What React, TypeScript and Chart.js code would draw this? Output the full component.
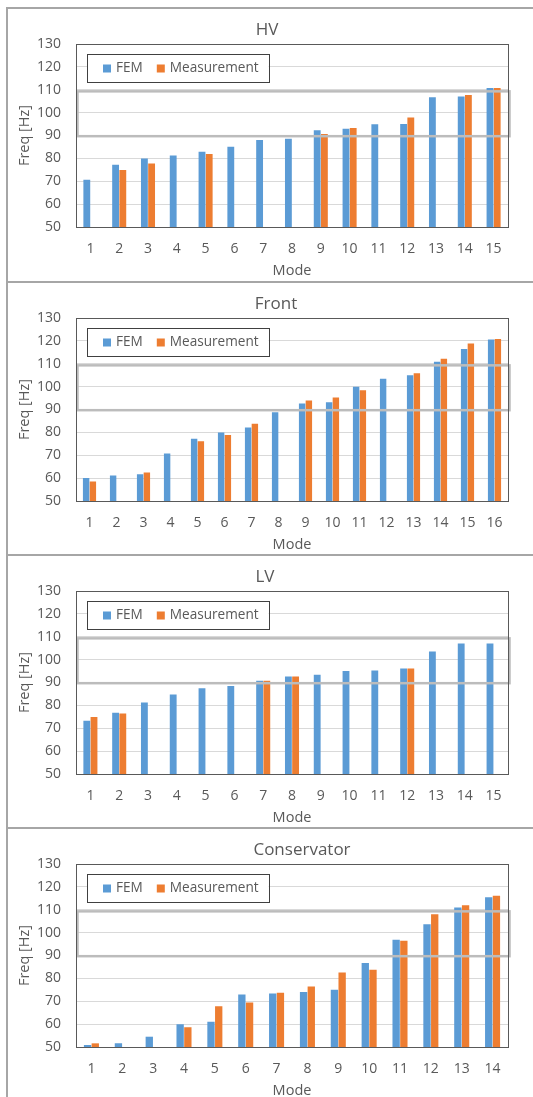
import React, { useEffect, useRef } from "react";
import { Chart, registerables } from "chart.js";

Chart.register(...registerables);

// ---------- data ----------
const HV_MODES = ["1", "2", "3", "4", "5", "6", "7", "8", "9", "10", "11", "12", "13", "14", "15"];
const HV_FEM = [70.7, 77.2, 80.0, 81.3, 82.9, 85.1, 88.0, 88.6, 92.3, 93.0, 94.9, 95.0, 106.7, 107.1, 110.8];
const HV_MEAS = [null, 74.9, 77.8, null, 81.9, null, null, null, 90.7, 93.3, null, 97.9, null, 107.7, 110.8];

const FRONT_MODES = ["1", "2", "3", "4", "5", "6", "7", "8", "9", "10", "11", "12", "13", "14", "15", "16"];
const FRONT_FEM = [60.1, 61.1, 61.7, 70.8, 77.2, 79.9, 82.1, 88.8, 92.6, 93.2, 99.9, 103.4, 105.0, 110.9, 116.5, 120.6];
const FRONT_MEAS = [58.5, null, 62.5, null, 76.1, 78.9, 83.8, null, 93.9, 95.2, 98.4, null, 105.8, 112.2, 118.9, 120.8];

const LV_MODES = ["1", "2", "3", "4", "5", "6", "7", "8", "9", "10", "11", "12", "13", "14", "15"];
const LV_FEM = [73.3, 76.8, 81.3, 84.8, 87.5, 88.5, 90.8, 92.6, 93.4, 95.0, 95.3, 96.1, 103.6, 107.1, 107.1];
const LV_MEAS = [74.9, 76.5, null, null, null, null, 90.8, 92.6, null, null, null, 96.1, null, null, null];

const CONS_MODES = ["1", "2", "3", "4", "5", "6", "7", "8", "9", "10", "11", "12", "13", "14"];
const CONS_FEM = [50.9, 51.6, 54.5, 59.9, 61.0, 73.0, 73.4, 74.0, 75.0, 86.7, 96.9, 103.7, 111.0, 115.5];
const CONS_MEAS = [51.6, null, null, 58.6, 67.8, 69.4, 73.7, 76.5, 82.6, 83.8, 96.5, 108.0, 112.0, 116.1];

const PANEL_TITLES = ["HV", "Front", "LV", "Conservator"];
const SERIES_NAMES = ["FEM", "Measurement"];
const Y_MIN = 50;
const Y_MAX = 130;
const Y_STEP = 10;
const BAND_LOW = 89.7;
const BAND_HIGH = 109.3;
const X_TITLE = "Mode";
const Y_TITLE = "Freq [Hz]";

// ---------- style ----------
const FONT = "'Open Sans', 'Noto Sans', sans-serif";
const FEM_COLOR = "#5B9BD5";
const MEAS_COLOR = "#ED7D31";
const TEXT_COLOR = "#595959";
const W = 533;
const PANEL_H = 274;
const PANEL_TOPS = [7, 281, 554, 827];
const TITLE_X = [267, 276, 265, 302];

const decoPlugin = {
  id: "deco",
  afterDatasetsDraw(chart: any, _args: any, opts: any) {
    const ctx = chart.ctx;
    const ca = chart.chartArea;
    const ys = chart.scales.y;
    ctx.save();
    const y1 = ys.getPixelForValue(opts.bandHigh);
    const y2 = ys.getPixelForValue(opts.bandLow);
    ctx.strokeStyle = "#bcbcbc";
    ctx.lineWidth = 2.5;
    ctx.strokeRect(ca.left + 1.5, y1, ca.right - ca.left, y2 - y1);
    ctx.strokeStyle = "#595959";
    ctx.lineWidth = 1;
    ctx.strokeRect(Math.round(ca.left) + 0.5, Math.round(ca.top) + 0.5, Math.round(ca.right - ca.left), Math.round(ca.bottom - ca.top));
    ctx.restore();
  },
  afterDraw(chart: any, _args: any, opts: any) {
    const ctx = chart.ctx;
    const ca = chart.chartArea;
    ctx.save();
    ctx.font = `17px ${FONT}`;
    ctx.fillStyle = TEXT_COLOR;
    ctx.textAlign = "center";
    ctx.textBaseline = "middle";
    ctx.fillText(opts.title, opts.titleX, 23);
    ctx.font = `13.6px ${FONT}`;
    const items = chart.data.datasets.map((d: any) => ({ label: d.label, color: d.backgroundColor }));
    const bx = Math.round(ca.left) + 11;
    const by = Math.round(ca.top) + 10;
    const bh = 28;
    let w = 16;
    items.forEach((it: any, i: number) => {
      w += 13 + ctx.measureText(it.label).width;
      if (i < items.length - 1) w += 14;
    });
    w += 10;
    ctx.fillStyle = "#ffffff";
    ctx.fillRect(bx, by, w, bh);
    ctx.strokeStyle = "#404040";
    ctx.lineWidth = 1;
    ctx.strokeRect(bx + 0.5, by + 0.5, Math.round(w), bh);
    let x = bx + 16;
    const cy = by + bh / 2 + 0.5;
    items.forEach((it: any) => {
      ctx.fillStyle = it.color;
      ctx.fillRect(x, cy - 4, 8, 8);
      ctx.fillStyle = TEXT_COLOR;
      ctx.textAlign = "left";
      ctx.textBaseline = "middle";
      ctx.fillText(it.label, x + 13, cy);
      x += 13 + ctx.measureText(it.label).width + 14;
    });
    ctx.restore();
  },
};

function Panel(props: { idx: number; labels: string[]; fem: (number | null)[]; meas: (number | null)[] }) {
  const ref = useRef<HTMLCanvasElement | null>(null);
  useEffect(() => {
    if (!ref.current) return;
    const chart = new Chart(ref.current, {
      type: "bar",
      data: {
        labels: props.labels,
        datasets: [
          { label: SERIES_NAMES[0], data: props.fem, backgroundColor: FEM_COLOR, borderWidth: 0, categoryPercentage: 0.5, barPercentage: 0.95 },
          { label: SERIES_NAMES[1], data: props.meas, backgroundColor: MEAS_COLOR, borderWidth: 0, categoryPercentage: 0.5, barPercentage: 0.95 },
        ],
      } as any,
      options: {
        responsive: false,
        animation: false,
        layout: { padding: { top: 37, right: 25, left: 0, bottom: 0 } },
        plugins: {
          legend: { display: false },
          tooltip: { enabled: false },
          title: { display: false },
          deco: { title: PANEL_TITLES[props.idx], titleX: TITLE_X[props.idx], bandLow: BAND_LOW, bandHigh: BAND_HIGH },
        } as any,
        scales: {
          x: {
            grid: { display: false, drawTicks: false },
            border: { color: "#404040", width: 1 },
            ticks: { color: TEXT_COLOR, font: { family: FONT, size: 14 }, padding: 14, maxRotation: 0, autoSkip: false },
            title: { display: true, text: X_TITLE, color: TEXT_COLOR, font: { family: FONT, size: 14.5 }, padding: { top: 0, bottom: 1 } },
            afterFit: (s: any) => { s.height = 54; },
          },
          y: {
            min: Y_MIN,
            max: Y_MAX,
            grid: { color: "#d9d9d9", drawTicks: false },
            border: { color: "#595959", width: 1 },
            ticks: { stepSize: Y_STEP, color: TEXT_COLOR, font: { family: FONT, size: 14 }, padding: 15 },
            title: { display: true, text: Y_TITLE, color: TEXT_COLOR, font: { family: FONT, size: 14.5 }, padding: { top: 16, bottom: 0 } },
            afterFit: (s: any) => { s.width = 76; },
          },
        },
      } as any,
      plugins: [decoPlugin as any],
    });
    return () => chart.destroy();
  }, []);
  return (
    <canvas
      ref={ref}
      width={W}
      height={PANEL_H}
      style={{ position: "absolute", left: 0, top: PANEL_TOPS[props.idx], width: W, height: PANEL_H }}
    />
  );
}

export default function App() {
  useEffect(() => {
    document.body.style.margin = "0";
    document.body.style.overflow = "hidden";
  }, []);
  const panels = [
    { labels: HV_MODES, fem: HV_FEM, meas: HV_MEAS },
    { labels: FRONT_MODES, fem: FRONT_FEM, meas: FRONT_MEAS },
    { labels: LV_MODES, fem: LV_FEM, meas: LV_MEAS },
    { labels: CONS_MODES, fem: CONS_FEM, meas: CONS_MEAS },
  ];
  return (
    <div style={{ position: "relative", width: W, height: 1097, overflow: "hidden", background: "#ffffff" }}>
      <div style={{ position: "absolute", left: 6, top: PANEL_TOPS[0], width: 2, height: 1097 - PANEL_TOPS[0], background: "#a6a6a6" }} />
      {PANEL_TOPS.map((t, i) => (
        <div key={"b" + i} style={{ position: "absolute", left: 6, top: t, width: W - 6, height: 2, background: "#a6a6a6" }} />
      ))}
      {panels.map((p, i) => (
        <Panel key={i} idx={i} labels={p.labels} fem={p.fem} meas={p.meas} />
      ))}
    </div>
  );
}
